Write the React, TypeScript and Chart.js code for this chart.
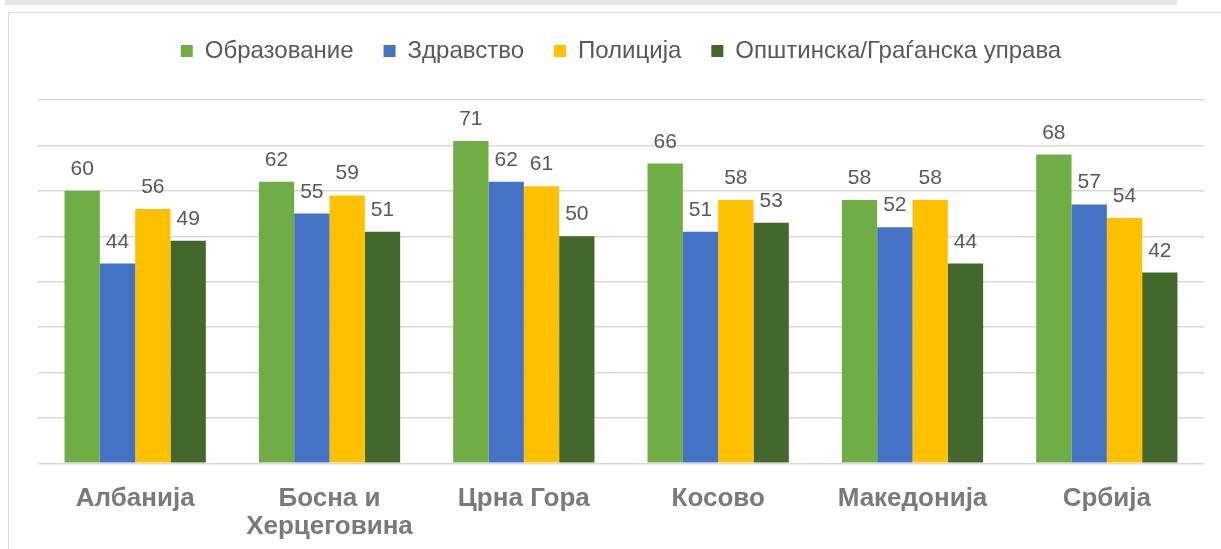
import React, { useEffect, useRef } from "react";
import { Chart, registerables } from "chart.js";

Chart.register(...registerables);

const categories: (string | string[])[] = [
  "Албанија",
  ["Босна и", "Херцеговина"],
  "Црна Гора",
  "Косово",
  "Македонија",
  "Србија",
];
const seriesNames = ["Образование", "Здравство", "Полиција", "Општинска/Граѓанска управа"];
const education = [60, 62, 71, 66, 58, 68];
const health = [44, 55, 62, 51, 52, 57];
const police = [56, 59, 61, 58, 58, 54];
const municipal = [49, 51, 50, 53, 44, 42];
const colors = ["#70AD47", "#4472C4", "#FFC000", "#43682B"];

const dataLabelPlugin = {
  id: "dataLabelsInline",
  afterDatasetsDraw(chart: any) {
    const ctx = chart.ctx;
    ctx.save();
    ctx.font = "21px Arial, 'Liberation Sans', sans-serif";
    ctx.fillStyle = "#595959";
    ctx.textAlign = "center";
    ctx.textBaseline = "alphabetic";
    chart.data.datasets.forEach((ds: any, i: number) => {
      const meta = chart.getDatasetMeta(i);
      meta.data.forEach((el: any, j: number) => {
        ctx.fillText(String(ds.data[j]), el.x, el.y - 16);
      });
    });
    ctx.restore();
  },
};

const legendSpacer = {
  id: "legendSpacer",
  beforeInit(chart: any) {
    const orig = chart.legend.fit;
    chart.legend.fit = function () {
      orig.bind(chart.legend)();
      this.height += 27;
    };
  },
};

export default function App() {
  const ref = useRef<HTMLCanvasElement | null>(null);
  useEffect(() => {
    if (!ref.current) return;
    const allSeries = [education, health, police, municipal];
    const chart = new Chart(ref.current, {
      type: "bar",
      data: {
        labels: categories,
        datasets: allSeries.map((d, i) => ({
          label: seriesNames[i],
          data: d,
          backgroundColor: colors[i],
          borderWidth: 0,
          barPercentage: 1,
          categoryPercentage: 0.727,
        })),
      },
      plugins: [dataLabelPlugin, legendSpacer],
      options: {
        animation: false,
        responsive: false,
        maintainAspectRatio: false,
        layout: { padding: { left: 38, right: 17, top: 9, bottom: -6 } },
        plugins: {
          tooltip: { enabled: false },
          legend: {
            position: "top",
            labels: {
              boxWidth: 12,
              boxHeight: 12,
              padding: 30,
              color: "#595959",
              font: { family: "Arial, 'Liberation Sans', sans-serif", size: 24 },
            },
          },
        },
        scales: {
          x: {
            grid: { display: false },
            border: { display: false },
            ticks: {
              color: "#7a7a7a",
              padding: 14,
              maxRotation: 0,
              autoSkip: false,
              font: { family: "Arial, 'Liberation Sans', sans-serif", size: 26, weight: "bold", lineHeight: 1.07 },
            },
          },
          y: {
            min: 0,
            max: 80,
            ticks: { display: false, stepSize: 10 },
            border: { display: false },
            grid: { color: "#d9d9d9", lineWidth: 1.5, drawTicks: false },
          },
        },
      },
    });
    return () => chart.destroy();
  }, []);

  return (
    <div style={{ position: "absolute", left: 0, top: 0, width: 1221, height: 549, background: "#fff", overflow: "hidden" }}>
      <div style={{ position: "absolute", left: 5, top: 0, width: 1172, height: 5, background: "#e7e8ea" }} />
      <div
        style={{
          position: "absolute",
          left: 8,
          top: 12,
          width: 1240,
          height: 560,
          border: "1.5px solid #dadada",
          boxSizing: "border-box",
        }}
      />
      <canvas ref={ref} width={1221} height={549} style={{ position: "absolute", left: 0, top: 0, width: 1221, height: 549 }} />
    </div>
  );
}
